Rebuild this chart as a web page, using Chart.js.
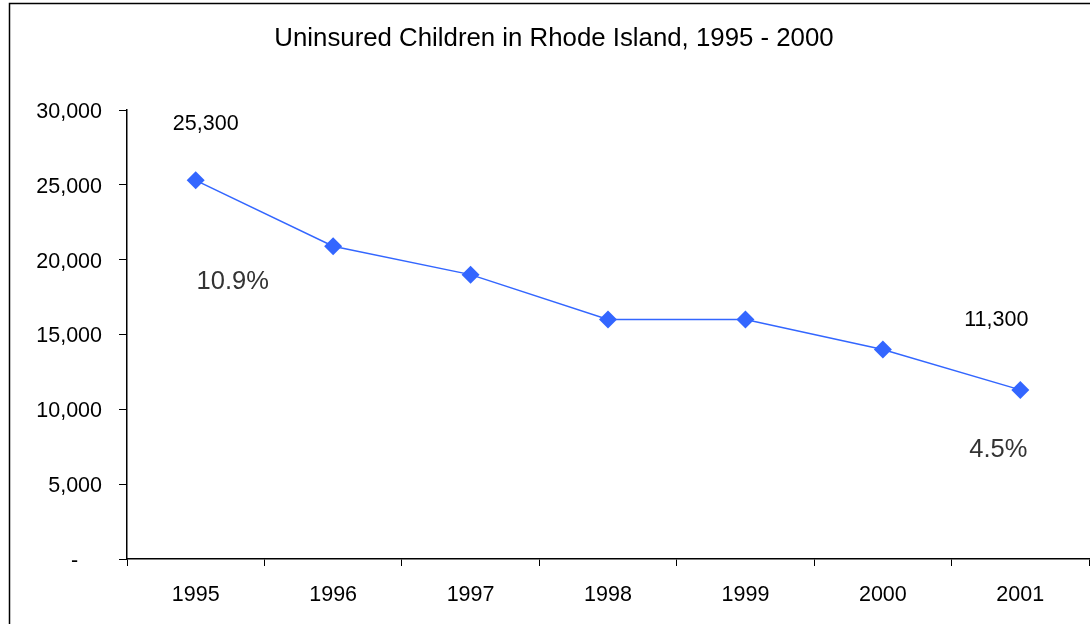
<!DOCTYPE html>
<html>
<head>
<meta charset="utf-8">
<script src="https://cdn.jsdelivr.net/npm/chart.js@4.4.0/dist/chart.umd.min.js"></script>
<style>
  html, body { margin: 0; padding: 0; background: #fff; }
  #wrap { width: 1090px; height: 624px; }
</style>
</head>
<body>
<div id="wrap"><canvas id="lineChart" width="1090" height="624"></canvas></div>
<script>
var titleText = 'Uninsured Children in Rhode Island, 1995 - 2000';
var years = ['1995', '1996', '1997', '1998', '1999', '2000', '2001'];
var uninsured = [25300, 20900, 19000, 16000, 16000, 14000, 11300];
var yTicks = [0, 5000, 10000, 15000, 20000, 25000, 30000];

// notes written next to first and last point
var noteIndex = [0, 0, 6, 6];
var noteText = ['25,300', '10.9%', '11,300', '4.5%'];

var blue = '#3366FF';
var fontName = "'Liberation Sans', Arial, sans-serif";

// white page, outer frame and the title (sits a bit right of centre in the original)
var frame = {
  id: 'frame',
  beforeDraw: function (chart) {
    var c = chart.ctx;
    c.save();
    c.fillStyle = '#fff';
    c.fillRect(0, 0, chart.width, chart.height);
    c.strokeStyle = '#000';
    c.lineWidth = 1.5;
    c.strokeRect(9.5, 3.5, 1200, 800);
    c.fillStyle = '#000';
    c.font = '25.8px ' + fontName;
    c.textAlign = 'center';
    c.textBaseline = 'middle';
    c.fillText(titleText, 554, 39);
    c.restore();
  }
};

var notes = {
  id: 'notes',
  afterDatasetsDraw: function (chart, args, opts) {
    var c = chart.ctx;
    var xs = chart.scales.x, ys = chart.scales.y;
    c.save();
    c.textAlign = 'center';
    c.textBaseline = 'middle';
    for (var i = 0; i < noteText.length; i++) {
      var k = noteIndex[i];
      var st = opts.styles[i];
      c.font = st.size + 'px ' + fontName;
      c.fillStyle = st.color;
      c.fillText(noteText[i],
        xs.getPixelForValue(k) + st.dx,
        ys.getPixelForValue(uninsured[k]) + st.dy);
    }
    c.restore();
  }
};

var ctxL = document.getElementById('lineChart').getContext('2d');
var myLineChart = new Chart(ctxL, {
  type: 'line',
  data: {
    labels: years,
    datasets: [{
      label: 'Uninsured children',
      data: uninsured,
      borderColor: blue,
      backgroundColor: blue,
      borderWidth: 1.5,
      pointStyle: 'rectRot',
      pointRadius: 9,
      pointBorderWidth: 0,
      pointBackgroundColor: blue,
      tension: 0,
      clip: false
    }]
  },
  options: {
    responsive: false,
    animation: false,
    layout: { autoPadding: false, padding: { left: 0, right: 1, top: 110, bottom: 0 } },
    plugins: {
      legend: { display: false },
      tooltip: { enabled: false },
      title: { display: false },
      notes: {
        styles: [
          { dx: 10, dy: -56, size: 21.5, color: '#000' },
          { dx: 37, dy: 102, size: 25.5, color: '#333' },
          { dx: -24, dy: -70, size: 21.5, color: '#000' },
          { dx: -22, dy: 60, size: 25.5, color: '#333' }
        ]
      }
    },
    scales: {
      x: {
        type: 'category',
        offset: true,
        border: { display: true, color: '#000', width: 1.5 },
        grid: {
          offset: true,
          drawOnChartArea: false,
          drawTicks: true,
          tickLength: 7,
          color: '#000',
          lineWidth: 1
        },
        ticks: {
          color: '#000',
          font: { family: fontName, size: 21.5 },
          padding: 16,
          maxRotation: 0
        },
        afterFit: function (s) {
          s.height = 65;
          s.paddingLeft = 0;
          s.paddingRight = 0;
        }
      },
      y: {
        min: 0,
        max: 30000,
        border: { display: true, color: '#000', width: 1.5 },
        grid: {
          drawOnChartArea: false,
          drawTicks: true,
          tickLength: 8,
          color: '#000'
        },
        afterBuildTicks: function (s) {
          s.ticks = yTicks.map(function (v) { return { value: v }; });
        },
        ticks: {
          color: '#000',
          font: { family: fontName, size: 21.5 },
          padding: 17,
          labelOffset: 2,
          // accounting style: zero shown as a dash, padded like the original
          callback: function (v) {
            return v === 0 ? '-    ' : v.toLocaleString('en-US');
          }
        },
        afterFit: function (s) { s.width = 127; }
      }
    }
  },
  plugins: [frame, notes]
});
</script>
</body>
</html>
